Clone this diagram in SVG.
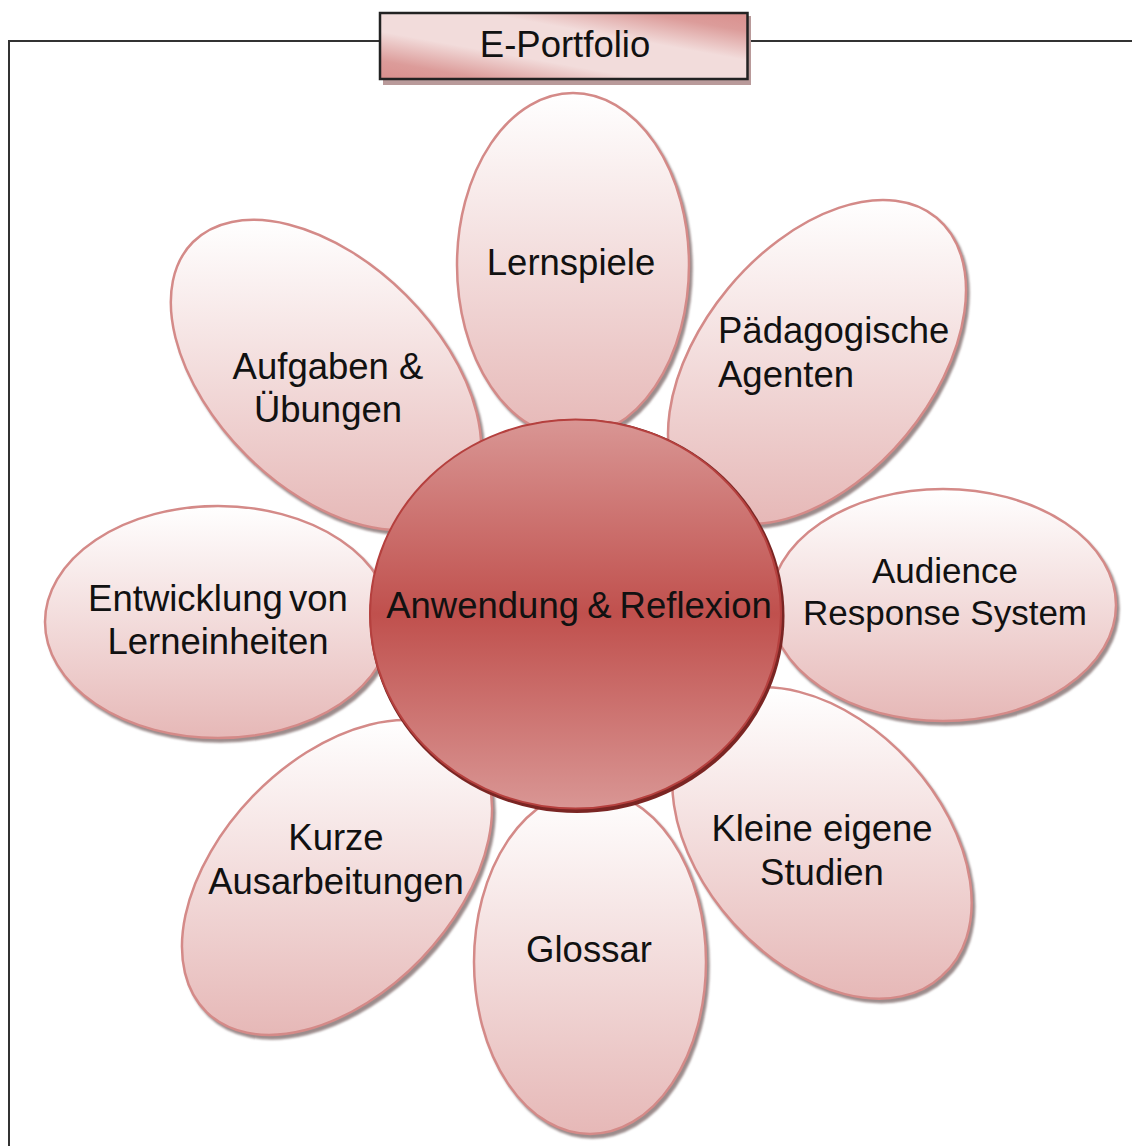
<svg xmlns="http://www.w3.org/2000/svg" width="1132" height="1146" viewBox="0 0 1132 1146">
<style>
text{font-family:"Liberation Sans",Arial,sans-serif;font-size:36.5px;fill:#111;text-anchor:middle}
.p{fill:url(#pg);stroke:#d48a88;stroke-width:2.5}
.s{fill:#9c8c8c;stroke:#9c8c8c;stroke-width:2.5;transform:translate(2.5px,3.5px);filter:url(#soft)}
.l{text-anchor:start}
.m{font-size:35px}
</style>
<defs>
<filter id="soft" x="-5%" y="-5%" width="110%" height="110%"><feGaussianBlur stdDeviation="0.8"/></filter>
<linearGradient id="pg" x1="0" y1="0" x2="0" y2="1"><stop offset="0" stop-color="#fff"/><stop offset="1" stop-color="#e6b8b7"/></linearGradient>
<linearGradient id="cg" x1="0" y1="0" x2="0" y2="1"><stop offset="0" stop-color="#d99694"/><stop offset=".5" stop-color="#c0504d"/><stop offset="1" stop-color="#d99694"/></linearGradient>
<linearGradient id="bg" x1="1" y1="0" x2="0" y2="1"><stop offset="0" stop-color="#d98f8d"/><stop offset=".14" stop-color="#dc9c9a"/><stop offset=".36" stop-color="#f2dcdb"/><stop offset=".64" stop-color="#f2dcdb"/><stop offset=".86" stop-color="#dc9c9a"/><stop offset="1" stop-color="#d98f8d"/></linearGradient>
</defs>
<g id="connectors"><path d="M9 1146V41H380M747 41H1132" fill="none" stroke="#333" stroke-width="2"/></g>
<g id="title"><rect x="383" y="16" width="368" height="69" fill="#b99a9a"/><rect x="380" y="13" width="367.500" height="66" fill="url(#bg)" stroke="#222" stroke-width="2.500"/><text x="565" y="57">E-Portfolio</text></g>
<g id="petal-glossar"><ellipse class="s" cx="590" cy="962" rx="116" ry="172"/><ellipse class="p" cx="590" cy="962" rx="116" ry="172"/><text x="589" y="962">Glossar</text></g>
<g id="petal-studien"><path class="s" d="M702 710.200A179 118 47.900 1 0 942 975.800A179 118 47.900 1 0 702 710.200Z"/><path class="p" d="M702 710.200A179 118 47.900 1 0 942 975.800A179 118 47.900 1 0 702 710.200Z"/><text x="822" y="841">Kleine eigene</text><text x="822" y="885">Studien</text></g>
<g id="petal-kurze"><path class="s" d="M467.200 742.700A187.400 117 -46 1 0 206.800 1012.300A187.400 117 -46 1 0 467.200 742.700Z"/><path class="p" d="M467.200 742.700A187.400 117 -46 1 0 206.800 1012.300A187.400 117 -46 1 0 467.200 742.700Z"/><text x="336" y="850">Kurze</text><text x="336" y="894">Ausarbeitungen</text></g>
<g id="petal-lernspiele"><ellipse class="s" cx="573" cy="265" rx="116" ry="172"/><ellipse class="p" cx="573" cy="265" rx="116" ry="172"/><text x="571" y="275">Lernspiele</text></g>
<g id="petal-agenten"><path class="s" d="M936.600 217.700A187.400 115.400 -50.350 1 0 697.400 506.300A187.400 115.400 -50.350 1 0 936.600 217.700Z"/><path class="p" d="M936.600 217.700A187.400 115.400 -50.350 1 0 697.400 506.300A187.400 115.400 -50.350 1 0 936.600 217.700Z"/><text class="l" x="718" y="343">Pädagogische</text><text class="l" x="718" y="387">Agenten</text></g>
<g id="petal-aufgaben"><path class="s" d="M193 242A188 113 45 1 0 459 508A188 113 45 1 0 193 242Z"/><path class="p" d="M193 242A188 113 45 1 0 459 508A188 113 45 1 0 193 242Z"/><text x="328" y="379">Aufgaben &amp;</text><text x="328" y="422">Übungen</text></g>
<g id="petal-lerneinheiten"><ellipse class="s" cx="218" cy="622" rx="173" ry="116"/><ellipse class="p" cx="218" cy="622" rx="173" ry="116"/><text x="218" y="611" word-spacing="-4">Entwicklung von</text><text x="218" y="654">Lerneinheiten</text></g>
<g id="petal-audience"><ellipse class="s" cx="943" cy="605" rx="173" ry="116"/><ellipse class="p" cx="943" cy="605" rx="173" ry="116"/><text class="m" x="945" y="583">Audience</text><text class="m" x="945" y="625">Response System</text></g>
<g id="center"><ellipse cx="577" cy="616" rx="207.500" ry="197" fill="#7a2523"/><ellipse cx="575.500" cy="614" rx="205.500" ry="194.500" fill="url(#cg)" stroke="#b5403e" stroke-width="2"/><text x="579" y="618" word-spacing="-2">Anwendung &amp; Reflexion</text></g>
</svg>
